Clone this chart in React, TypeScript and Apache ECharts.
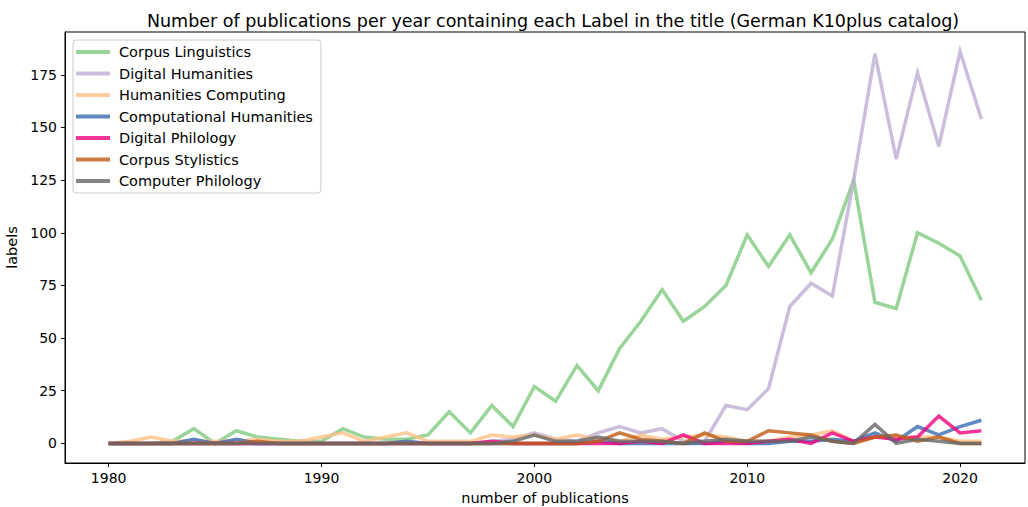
import React, { useEffect, useRef } from "react";
import * as echarts from "echarts";

const years = [1980, 1981, 1982, 1983, 1984, 1985, 1986, 1987, 1988, 1989, 1990, 1991, 1992, 1993, 1994, 1995, 1996, 1997, 1998, 1999, 2000, 2001, 2002, 2003, 2004, 2005, 2006, 2007, 2008, 2009, 2010, 2011, 2012, 2013, 2014, 2015, 2016, 2017, 2018, 2019, 2020, 2021];

const corpusLinguistics = [0, 0, 0, 1, 7, 0, 6, 3, 2, 1, 1, 7, 3, 2, 2, 4, 15, 5, 18, 8, 27, 20, 37, 25, 45, 58, 73, 58, 65, 75, 99, 84, 99, 81, 97, 125, 67, 64, 100, 95, 89, 68];
const digitalHumanities = [0, 0, 0, 0, 0, 0, 0, 0, 0, 0, 0, 0, 0, 0, 0, 0, 0, 0, 1, 2, 5, 2, 1, 5, 8, 5, 7, 1, 1, 18, 16, 26, 65, 76, 70, 125, 185, 135, 176, 141, 186, 154];
const humanitiesComputing = [0, 1, 3, 1, 1, 1, 1, 2, 1, 1, 3, 5, 1, 3, 5, 1, 1, 1, 4, 3, 4, 2, 4, 2, 1, 4, 2, 3, 4, 3, 1, 1, 3, 4, 6, 1, 3, 3, 3, 3, 1, 1];
const computationalHumanities = [0, 0, 0, 0, 2, 0, 2, 0, 0, 0, 0, 0, 0, 0, 1, 0, 0, 0, 0, 0, 0, 0, 0, 1, 0, 0, 0, 0, 0, 1, 0, 0, 1, 1, 2, 1, 5, 1, 8, 4, 8, 11];
const digitalPhilology = [0, 0, 0, 0, 0, 0, 0, 0, 0, 0, 0, 0, 0, 0, 0, 0, 0, 0, 1, 0, 0, 0, 0, 0, 0, 1, 0, 4, 0, 0, 0, 1, 2, 0, 5, 1, 3, 2, 3, 13, 5, 6];
const corpusStylistics = [0, 0, 0, 0, 0, 0, 0, 1, 0, 0, 0, 0, 0, 0, 0, 0, 0, 0, 0, 0, 0, 0, 0, 1, 5, 2, 1, 0, 5, 1, 1, 6, 5, 4, 1, 0, 3, 4, 1, 3, 0, 0];
const computerPhilology = [0, 0, 0, 0, 0, 0, 0, 0, 0, 0, 0, 0, 0, 0, 0, 0, 0, 0, 0, 1, 4, 1, 1, 3, 1, 1, 1, 0, 1, 2, 1, 1, 1, 3, 1, 0, 9, 0, 2, 1, 0, 0];

const seriesNames = ["Corpus Linguistics", "Digital Humanities", "Humanities Computing", "Computational Humanities", "Digital Philology", "Corpus Stylistics", "Computer Philology"];
const seriesValues = [corpusLinguistics, digitalHumanities, humanitiesComputing, computationalHumanities, digitalPhilology, corpusStylistics, computerPhilology];
const seriesColors = ["rgba(127,201,127,0.8)", "rgba(190,174,212,0.8)", "rgba(253,192,134,0.8)", "rgba(56,108,176,0.8)", "rgba(240,2,127,0.8)", "rgba(191,91,23,0.8)", "rgba(102,102,102,0.8)"];

const xTicks = [1980, 1990, 2000, 2010, 2020];
const yTicks = [0, 25, 50, 75, 100, 125, 150, 175];

const FONT = "DejaVu Sans";

export default function App() {
  const ref = useRef<HTMLDivElement>(null);
  useEffect(() => {
    if (!ref.current) return;
    const chart = echarts.init(ref.current, null, { renderer: "svg" });
    chart.setOption({
      animation: false,
      backgroundColor: "#ffffff",
      title: {
        text: "Number of publications per year containing each Label in the title (German K10plus catalog)",
        left: 548,
        textAlign: "center",
        top: 7,
        textStyle: { fontFamily: FONT, fontSize: 17.5, fontWeight: "normal", color: "#000" },
      },
      grid: {
        left: 65,
        right: 3,
        top: 32,
        bottom: 44,
        outerBoundsMode: "none",
        containLabel: false,
        show: true,
        borderColor: "#000",
        borderWidth: 1,
        backgroundColor: "transparent",
      },
      legend: {
        orient: "vertical",
        left: 73,
        top: 40,
        padding: [4, 8, 4, 3],
        itemWidth: 34,
        itemHeight: 4,
        itemGap: 5.5,
        icon: "rect",
        borderColor: "#cccccc",
        borderWidth: 1,
        borderRadius: 3,
        backgroundColor: "rgba(255,255,255,0.8)",
        data: seriesNames,
        textStyle: { fontFamily: FONT, fontSize: 14.5, color: "#000", lineHeight: 16, padding: [0, 0, 0, 4] },
      },
      xAxis: {
        type: "value",
        min: 1977.95,
        max: 2023.05,
        name: "number of publications",
        nameLocation: "middle",
        nameGap: 27,
        nameTextStyle: { fontFamily: FONT, fontSize: 14.5, color: "#000" },
        axisLine: { show: true, onZero: false, lineStyle: { color: "#000", width: 1 } },
        axisTick: { show: true, length: 4, customValues: xTicks, lineStyle: { color: "#000" } },
        axisLabel: { customValues: xTicks, margin: 8, fontFamily: FONT, fontSize: 14, color: "#000", formatter: (v: number) => String(v) },
        splitLine: { show: false },
      },
      yAxis: {
        type: "value",
        min: -9.3,
        max: 195.3,
        name: "labels",
        nameLocation: "middle",
        nameGap: 43,
        nameTextStyle: { fontFamily: FONT, fontSize: 14.5, color: "#000" },
        axisLine: { show: true, onZero: false, lineStyle: { color: "#000", width: 1 } },
        axisTick: { show: true, length: 4, customValues: yTicks, lineStyle: { color: "#000" } },
        axisLabel: { customValues: yTicks, margin: 8, fontFamily: FONT, fontSize: 14, color: "#000", formatter: (v: number) => String(v) },
        splitLine: { show: false },
      },
      series: seriesNames.map((name, i) => ({
        name,
        type: "line",
        data: years.map((y, j) => [y, seriesValues[i][j]]),
        showSymbol: false,
        symbol: "none",
        lineStyle: { color: seriesColors[i], width: 3.5, join: "miter" },
        itemStyle: { color: seriesColors[i] },
      })),
    });
    return () => chart.dispose();
  }, []);
  return <div ref={ref} style={{ position: "absolute", left: 0, top: 0, width: 1028, height: 507 }} />;
}
